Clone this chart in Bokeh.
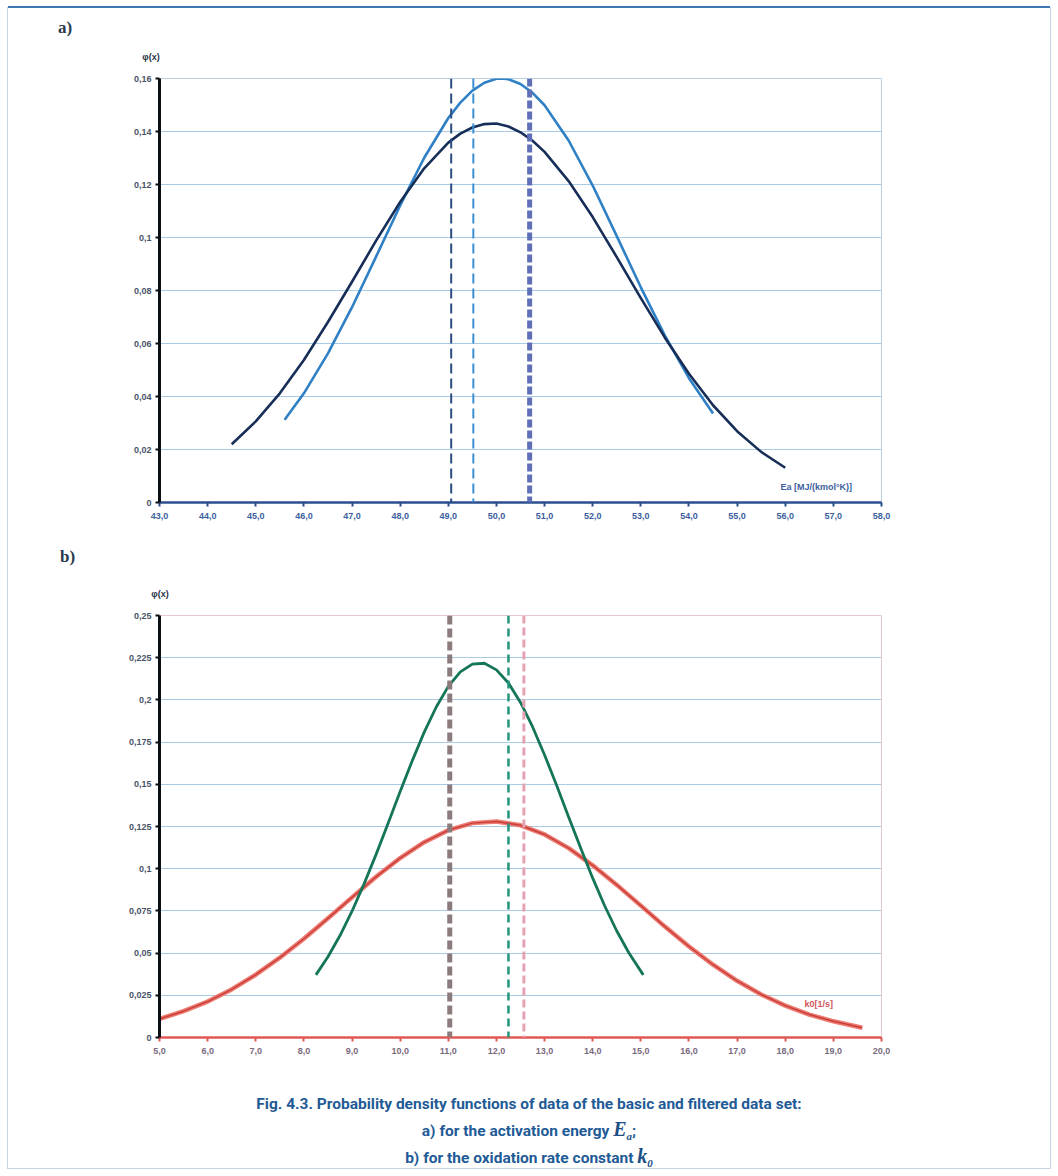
from bokeh.plotting import figure
from bokeh.models import Range1d, FixedTicker, Label, Span, Div
from bokeh.layouts import column
from bokeh.embed import file_html
from bokeh.resources import INLINE

# ---------------- panel a: activation energy Ea ----------------
ea_basic_x = [44.5, 45.0, 45.5, 46.0, 46.5, 47.0, 47.5, 48.0, 48.5, 49.0, 49.25, 49.5, 49.75,
              50.0, 50.25, 50.5, 50.75, 51.0, 51.5, 52.0, 52.5, 53.0, 53.5, 54.0, 54.5,
              55.0, 55.5, 56.0]
ea_basic_y = [0.0220, 0.0306, 0.0412, 0.0538, 0.0681, 0.0833, 0.0988, 0.1134, 0.1261,
              0.1358, 0.1392, 0.1415, 0.1428, 0.1430, 0.1419, 0.1397, 0.1365, 0.1323,
              0.1213, 0.1077, 0.0926, 0.0771, 0.0622, 0.0486, 0.0367, 0.0269, 0.0191, 0.0131]
ea_filt_x = [45.6, 46.0, 46.5, 47.0, 47.5, 48.0, 48.5, 49.0, 49.25, 49.5, 49.75, 50.0, 50.1,
             50.25, 50.5, 50.75, 51.0, 51.5, 52.0, 52.5, 53.0, 53.5, 54.0, 54.5]
ea_filt_y = [0.0312, 0.0412, 0.0563, 0.0737, 0.0928, 0.1121, 0.1301, 0.1451, 0.1509,
             0.1554, 0.1584, 0.1599, 0.1600, 0.1597, 0.1579, 0.1546, 0.1499, 0.1366,
             0.1196, 0.1005, 0.0812, 0.0630, 0.0469, 0.0336]
ea_marks = [49.06, 49.52, 50.69]

ea_xticks = [43, 44, 45, 46, 47, 48, 49, 50, 51, 52, 53, 54, 55, 56, 57, 58]
ea_xlabels = ["43,0", "44,0", "45,0", "46,0", "47,0", "48,0", "49,0", "50,0",
              "51,0", "52,0", "53,0", "54,0", "55,0", "56,0", "57,0", "58,0"]
ea_yticks = [0, 0.02, 0.04, 0.06, 0.08, 0.1, 0.12, 0.14, 0.16]
ea_ylabels = ["0", "0,02", "0,04", "0,06", "0,08", "0,1", "0,12", "0,14", "0,16"]

# ---------------- panel b: oxidation rate constant k0 ----------------
k_basic_x = [5.0, 5.5, 6.0, 6.5, 7.0, 7.5, 8.0, 8.5, 9.0, 9.5, 10.0, 10.5, 11.0, 11.5,
             12.0, 12.5, 13.0, 13.5, 14.0, 14.5, 15.0, 15.5, 16.0, 16.5, 17.0, 17.5,
             18.0, 18.5, 19.0, 19.6]
k_basic_y = [0.0110, 0.0156, 0.0213, 0.0285, 0.0372, 0.0473, 0.0585, 0.0706, 0.0830,
             0.0952, 0.1063, 0.1157, 0.1228, 0.1270, 0.1280, 0.1257, 0.1203, 0.1122,
             0.1020, 0.0904, 0.0781, 0.0657, 0.0539, 0.0431, 0.0336, 0.0255, 0.0189,
             0.0136, 0.0096, 0.0058]
k_filt_x = [8.25, 8.5, 8.75, 9.0, 9.25, 9.5, 9.75, 10.0, 10.25, 10.5, 10.75, 11.0, 11.25,
            11.5, 11.75, 12.0, 12.25, 12.5, 12.75, 13.0, 13.25, 13.5, 13.75, 14.0, 14.25,
            14.5, 14.75, 15.05]
k_filt_y = [0.0371, 0.0478, 0.0604, 0.0748, 0.0910, 0.1085, 0.1269, 0.1457, 0.1639,
            0.1809, 0.1958, 0.2080, 0.2166, 0.2212, 0.2217, 0.2178, 0.2100, 0.1985,
            0.1841, 0.1674, 0.1494, 0.1307, 0.1122, 0.0944, 0.0779, 0.0631, 0.0502, 0.0371]
k_marks = [11.03, 12.25, 12.57]

k_xticks = [5, 6, 7, 8, 9, 10, 11, 12, 13, 14, 15, 16, 17, 18, 19, 20]
k_xlabels = ["5,0", "6,0", "7,0", "8,0", "9,0", "10,0", "11,0", "12,0",
             "13,0", "14,0", "15,0", "16,0", "17,0", "18,0", "19,0", "20,0"]
k_yticks = [0, 0.025, 0.05, 0.075, 0.1, 0.125, 0.15, 0.175, 0.2, 0.225, 0.25]
k_ylabels = ["0", "0,025", "0,05", "0,075", "0,1", "0,125", "0,15", "0,175",
             "0,2", "0,225", "0,25"]

FONT = "Liberation Sans"


def base_panel(width, height, xr, yr, mbl, mbr, mbt, mbb, xticks, xlabels, yticks, ylabels,
               xaxis_color, xlabel_color):
    p = figure(width=width, height=height, x_range=Range1d(*xr), y_range=Range1d(*yr),
               output_backend="svg", toolbar_location=None,
               min_border_left=mbl, min_border_right=mbr,
               min_border_top=mbt, min_border_bottom=mbb, margin=0)
    p.xgrid.visible = False
    p.ygrid.grid_line_color = "#a9cbe6"
    p.ygrid.grid_line_width = 1
    p.outline_line_color = "#b9cfe2"
    p.background_fill_color = "white"
    p.border_fill_color = "white"

    xa = p.xaxis[0]
    xa.ticker = FixedTicker(ticks=xticks)
    xa.major_label_overrides = dict(zip(xticks, xlabels))
    xa.axis_line_color = xaxis_color
    xa.axis_line_width = 2.5
    xa.major_tick_line_color = xaxis_color
    xa.major_tick_line_width = 2
    xa.major_tick_out = 4
    xa.major_tick_in = 0
    xa.minor_tick_line_color = None
    xa.major_label_text_font = FONT
    xa.major_label_text_font_size = "9px"
    xa.major_label_text_font_style = "bold"
    xa.major_label_text_color = xlabel_color
    xa.major_label_standoff = 6

    ya = p.yaxis[0]
    ya.ticker = FixedTicker(ticks=yticks)
    ya.major_label_overrides = dict(zip(yticks, ylabels))
    ya.axis_line_color = "#0a0f14"
    ya.axis_line_width = 3
    ya.major_tick_line_color = "#0a0f14"
    ya.major_tick_line_width = 2
    ya.major_tick_out = 4
    ya.major_tick_in = 0
    ya.minor_tick_line_color = None
    ya.major_label_text_font = FONT
    ya.major_label_text_font_size = "9px"
    ya.major_label_text_font_style = "bold"
    ya.major_label_text_color = "#4a5468"
    ya.major_label_standoff = 4
    return p


def header(label, lab_left, lab_top, phi_center, phi_top, h):
    html = (
        f"<div style=\"position:relative;width:1042px;height:{h}px;\">"
        f"<span style=\"position:absolute;left:{lab_left}px;top:{lab_top}px;"
        f"font-family:'Liberation Serif',serif;font-weight:bold;font-size:17px;"
        f"line-height:17px;color:#2a3a4c;\">{label}</span>"
        f"<span style=\"position:absolute;left:{phi_center - 20}px;width:40px;top:{phi_top}px;"
        f"text-align:center;font-family:'Liberation Sans',sans-serif;font-weight:bold;"
        f"font-size:9px;line-height:10px;color:#2a3446;\">φ(x)</span>"
        f"</div>"
    )
    return Div(text=html, width=1042, height=h, margin=0)


# ---------- panel a ----------
head_a = header("a)", 50, 11, 143, 44, 62)
pa = base_panel(1042, 470, (43, 58), (0, 0.16), 145, 168, 8, 38,
                ea_xticks, ea_xlabels, ea_yticks, ea_ylabels, "#2b4f8e", "#3d5f9e")

pa.add_layout(Span(location=ea_marks[0], dimension="height", line_color="#2c4d80",
                   line_width=2, line_dash="10 5"))
pa.add_layout(Span(location=ea_marks[1], dimension="height", line_color="#3b8fd0",
                   line_width=2, line_dash="10 5"))
pa.add_layout(Span(location=ea_marks[2], dimension="height", line_color="#5f6fb8",
                   line_width=5, line_dash="8 3"))

pa.line(ea_filt_x, ea_filt_y, line_color="#2f80c4", line_width=2.6, line_join="round")
pa.line(ea_basic_x, ea_basic_y, line_color="#172f58", line_width=2.6, line_join="round")

pa.add_layout(Label(x=55.9, y=0.0057, text="Ea [MJ/(kmol°K)]", text_font=FONT,
                    text_font_size="9px", text_font_style="bold", text_color="#3d5f9e",
                    text_baseline="middle"))

# ---------- panel b ----------
head_b = header("b)", 52, 8, 152, 49, 63)
pb = base_panel(1042, 477, (5, 20), (0, 0.25), 151, 169, 12, 43,
                k_xticks, k_xlabels, k_yticks, k_ylabels, "#e05a55", "#7a6a7e")
pb.outline_line_color = "#e8c8cc"

pb.add_layout(Span(location=k_marks[0], dimension="height", line_color="#8c7b7d",
                   line_width=5, line_dash="9 4"))
pb.add_layout(Span(location=k_marks[1], dimension="height", line_color="#22957a",
                   line_width=2.5, line_dash="8 5"))
pb.add_layout(Span(location=k_marks[2], dimension="height", line_color="#e4a3b3",
                   line_width=3, line_dash="8 4"))

pb.line(k_basic_x, k_basic_y, line_color="#ee7a70", line_width=4.5, line_join="round")
pb.line(k_basic_x, k_basic_y, line_color="#c8403c", line_width=1.5, line_join="round")
pb.line(k_filt_x, k_filt_y, line_color="#157558", line_width=2.8, line_join="round")

pb.add_layout(Label(x=18.4, y=0.020, text="k0[1/s]", text_font=FONT,
                    text_font_size="9px", text_font_style="bold", text_color="#d0555a",
                    text_baseline="middle"))

# ---------- caption ----------
serif = ("font-family:'Liberation Serif',serif;font-style:italic;font-weight:bold;"
         "font-size:20px;color:#1d4f86;")
sub = "font-size:11px;vertical-align:-4px;line-height:0;"
caption = Div(
    text=(
        "<div style=\"width:1042px;text-align:center;font-family:Roboto,sans-serif;"
        "font-weight:bold;font-size:15.5px;line-height:25px;color:#1f5b96;padding-top:12px;\">"
        "Fig. 4.3. Probability density functions of data of the basic and filtered data set:<br>"
        "a) for the activation energy <span style=\"" + serif + "\">E<span style=\"" + sub +
        "\">a</span></span>;<br>"
        "b) for the oxidation rate constant <span style=\"" + serif + "\">k<span style=\"" +
        sub + "\">0</span></span>"
        "</div>"
    ),
    width=1042, height=88, margin=0,
)

layout = column(head_a, pa, head_b, pb, caption, margin=(8, 0, 0, 8), spacing=0,
                styles={"box-shadow": "0 -2px 0 0 #3c78b4, 0 0 0 1px #c4d5e6",
                        "background": "white"})

open("out.html", "w").write(file_html(layout, INLINE))
